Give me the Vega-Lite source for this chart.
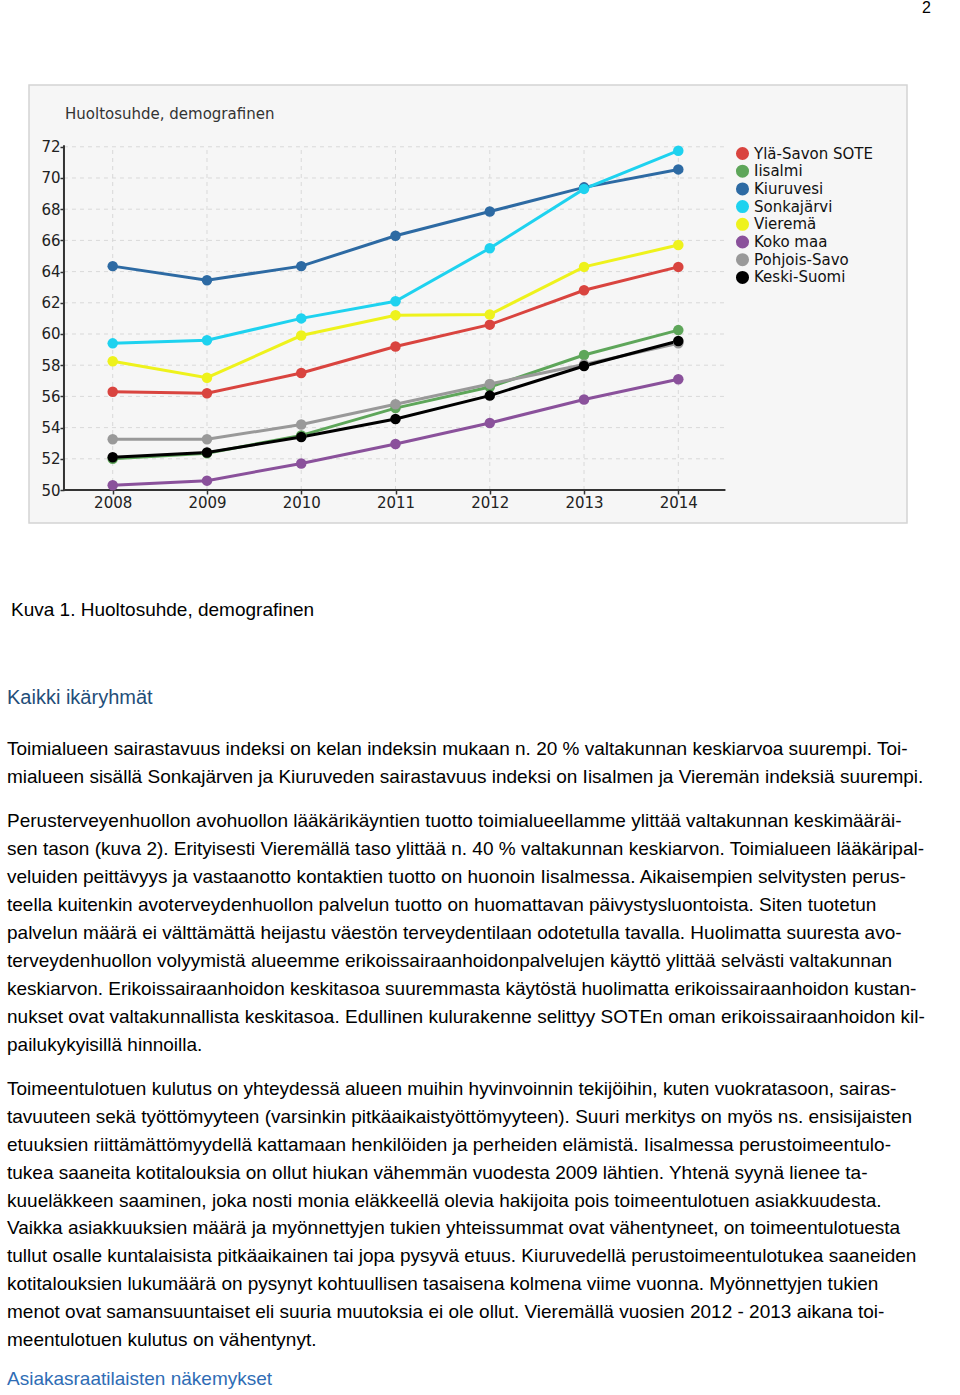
{
  "$schema": "https://vega.github.io/schema/vega-lite/v6.json",
  "padding": 0,
  "background": "white",
  "spacing": 0,
  "title": {"text": "2", "anchor": "end", "frame": "bounds", "font": "Liberation Sans", "fontSize": 16, "fontWeight": "normal", "color": "#000", "dx": 2, "offset": 52, "baseline": "bottom"},
  "config": {"view": {"stroke": null}, "font": "Liberation Sans"},
  "vconcat": [
    {
      "width": 878,
      "height": 438,
      "view": {"fill": "#f6f6f6", "stroke": "#d4d4d4", "strokeWidth": 1.5},
      "title": {"text": "Huoltosuhde, demografinen", "anchor": "start", "font": "DejaVu Sans", "fontSize": 15, "fontWeight": "normal", "color": "#333", "offset": -44, "dx": 64, "baseline": "middle"},
      "data": {"values": [
        {"region": "Ylä-Savon SOTE", "year": 2008, "value": 56.3},
        {"region": "Ylä-Savon SOTE", "year": 2009, "value": 56.2},
        {"region": "Ylä-Savon SOTE", "year": 2010, "value": 57.5},
        {"region": "Ylä-Savon SOTE", "year": 2011, "value": 59.2},
        {"region": "Ylä-Savon SOTE", "year": 2012, "value": 60.6},
        {"region": "Ylä-Savon SOTE", "year": 2013, "value": 62.8},
        {"region": "Ylä-Savon SOTE", "year": 2014, "value": 64.3},
        {"region": "Iisalmi", "year": 2008, "value": 52.0},
        {"region": "Iisalmi", "year": 2009, "value": 52.35},
        {"region": "Iisalmi", "year": 2010, "value": 53.5},
        {"region": "Iisalmi", "year": 2011, "value": 55.25},
        {"region": "Iisalmi", "year": 2012, "value": 56.6},
        {"region": "Iisalmi", "year": 2013, "value": 58.65},
        {"region": "Iisalmi", "year": 2014, "value": 60.25},
        {"region": "Kiuruvesi", "year": 2008, "value": 64.35},
        {"region": "Kiuruvesi", "year": 2009, "value": 63.45},
        {"region": "Kiuruvesi", "year": 2010, "value": 64.35},
        {"region": "Kiuruvesi", "year": 2011, "value": 66.3},
        {"region": "Kiuruvesi", "year": 2012, "value": 67.85},
        {"region": "Kiuruvesi", "year": 2013, "value": 69.4},
        {"region": "Kiuruvesi", "year": 2014, "value": 70.55},
        {"region": "Sonkajärvi", "year": 2008, "value": 59.4},
        {"region": "Sonkajärvi", "year": 2009, "value": 59.6},
        {"region": "Sonkajärvi", "year": 2010, "value": 61.0},
        {"region": "Sonkajärvi", "year": 2011, "value": 62.1},
        {"region": "Sonkajärvi", "year": 2012, "value": 65.5},
        {"region": "Sonkajärvi", "year": 2013, "value": 69.3},
        {"region": "Sonkajärvi", "year": 2014, "value": 71.75},
        {"region": "Vieremä", "year": 2008, "value": 58.25},
        {"region": "Vieremä", "year": 2009, "value": 57.2},
        {"region": "Vieremä", "year": 2010, "value": 59.9},
        {"region": "Vieremä", "year": 2011, "value": 61.2},
        {"region": "Vieremä", "year": 2012, "value": 61.25},
        {"region": "Vieremä", "year": 2013, "value": 64.3},
        {"region": "Vieremä", "year": 2014, "value": 65.7},
        {"region": "Koko maa", "year": 2008, "value": 50.3},
        {"region": "Koko maa", "year": 2009, "value": 50.6},
        {"region": "Koko maa", "year": 2010, "value": 51.7},
        {"region": "Koko maa", "year": 2011, "value": 52.95},
        {"region": "Koko maa", "year": 2012, "value": 54.3},
        {"region": "Koko maa", "year": 2013, "value": 55.8},
        {"region": "Koko maa", "year": 2014, "value": 57.1},
        {"region": "Pohjois-Savo", "year": 2008, "value": 53.25},
        {"region": "Pohjois-Savo", "year": 2009, "value": 53.25},
        {"region": "Pohjois-Savo", "year": 2010, "value": 54.2},
        {"region": "Pohjois-Savo", "year": 2011, "value": 55.5},
        {"region": "Pohjois-Savo", "year": 2012, "value": 56.8},
        {"region": "Pohjois-Savo", "year": 2013, "value": 58.05},
        {"region": "Pohjois-Savo", "year": 2014, "value": 59.4},
        {"region": "Keski-Suomi", "year": 2008, "value": 52.1},
        {"region": "Keski-Suomi", "year": 2009, "value": 52.4},
        {"region": "Keski-Suomi", "year": 2010, "value": 53.4},
        {"region": "Keski-Suomi", "year": 2011, "value": 54.55},
        {"region": "Keski-Suomi", "year": 2012, "value": 56.05},
        {"region": "Keski-Suomi", "year": 2013, "value": 57.95},
        {"region": "Keski-Suomi", "year": 2014, "value": 59.55}
      ]},
      "layer": [
        {
          "data": {"values": [{"year": 2008}, {"year": 2009}, {"year": 2010}, {"year": 2011}, {"year": 2012}, {"year": 2013}, {"year": 2014}]},
          "mark": {"type": "rule", "color": "#d9d9d9", "strokeWidth": 1, "strokeDash": [4, 4]},
          "encoding": {
            "x": {"field": "year", "type": "quantitative", "scale": {"domain": [2007.112, 2016.426], "nice": false, "zero": false},
              "axis": {"orient": "bottom", "offset": -33, "values": [2008, 2009, 2010, 2011, 2012, 2013, 2014], "format": "d", "domain": false, "grid": false, "ticks": true, "tickSize": 4, "tickColor": "#333", "tickWidth": 1.5, "labelFont": "DejaVu Sans", "labelFontSize": 15, "labelColor": "#222", "labelPadding": 1, "title": null, "minExtent": 60, "maxExtent": 60}},
            "y": {"datum": 50, "type": "quantitative", "scale": {"domain": [47.885, 75.96], "nice": false, "zero": false},
              "axis": {"orient": "left", "offset": -35, "values": [50, 52, 54, 56, 58, 60, 62, 64, 66, 68, 70, 72], "domain": false, "grid": false, "ticks": true, "tickSize": 4, "tickColor": "#333", "tickWidth": 1.5, "labelFont": "DejaVu Sans", "labelFontSize": 15, "labelColor": "#222", "labelPadding": 0, "title": null, "minExtent": 63, "maxExtent": 63}},
            "y2": {"datum": 72}
          }
        },
        {
          "data": {"values": [{"v": 52}, {"v": 54}, {"v": 56}, {"v": 58}, {"v": 60}, {"v": 62}, {"v": 64}, {"v": 66}, {"v": 68}, {"v": 70}, {"v": 72}]},
          "mark": {"type": "rule", "color": "#d9d9d9", "strokeWidth": 1, "strokeDash": [4, 4]},
          "encoding": {
            "y": {"field": "v", "type": "quantitative", "scale": {"domain": [47.885, 75.96], "nice": false, "zero": false},
              "axis": {"orient": "left", "offset": -35, "values": [50, 52, 54, 56, 58, 60, 62, 64, 66, 68, 70, 72], "domain": false, "grid": false, "ticks": true, "tickSize": 4, "tickColor": "#333", "tickWidth": 1.5, "labelFont": "DejaVu Sans", "labelFontSize": 15, "labelColor": "#222", "labelPadding": 0, "title": null, "minExtent": 63, "maxExtent": 63}},
            "x": {"datum": 2007.483, "type": "quantitative", "scale": {"domain": [2007.112, 2016.426], "nice": false, "zero": false},
              "axis": {"orient": "bottom", "offset": -33, "values": [2008, 2009, 2010, 2011, 2012, 2013, 2014], "format": "d", "domain": false, "grid": false, "ticks": true, "tickSize": 4, "tickColor": "#333", "tickWidth": 1.5, "labelFont": "DejaVu Sans", "labelFontSize": 15, "labelColor": "#222", "labelPadding": 1, "title": null, "minExtent": 60, "maxExtent": 60}},
            "x2": {"datum": 2014.5}
          }
        },
        {
          "data": {"values": [{"axis": "y"}]},
          "mark": {"type": "rule", "color": "#333", "strokeWidth": 2},
          "encoding": {
            "x": {"datum": 2007.483, "type": "quantitative", "scale": {"domain": [2007.112, 2016.426], "nice": false, "zero": false},
              "axis": {"orient": "bottom", "offset": -33, "values": [2008, 2009, 2010, 2011, 2012, 2013, 2014], "format": "d", "domain": false, "grid": false, "ticks": true, "tickSize": 4, "tickColor": "#333", "tickWidth": 1.5, "labelFont": "DejaVu Sans", "labelFontSize": 15, "labelColor": "#222", "labelPadding": 1, "title": null, "minExtent": 60, "maxExtent": 60}},
            "y": {"datum": 50, "type": "quantitative", "scale": {"domain": [47.885, 75.96], "nice": false, "zero": false},
              "axis": {"orient": "left", "offset": -35, "values": [50, 52, 54, 56, 58, 60, 62, 64, 66, 68, 70, 72], "domain": false, "grid": false, "ticks": true, "tickSize": 4, "tickColor": "#333", "tickWidth": 1.5, "labelFont": "DejaVu Sans", "labelFontSize": 15, "labelColor": "#222", "labelPadding": 0, "title": null, "minExtent": 63, "maxExtent": 63}},
            "y2": {"datum": 72.1}
          }
        },
        {
          "data": {"values": [{"axis": "x"}]},
          "mark": {"type": "rule", "color": "#333", "strokeWidth": 2},
          "encoding": {
            "y": {"datum": 50, "type": "quantitative", "scale": {"domain": [47.885, 75.96], "nice": false, "zero": false},
              "axis": {"orient": "left", "offset": -35, "values": [50, 52, 54, 56, 58, 60, 62, 64, 66, 68, 70, 72], "domain": false, "grid": false, "ticks": true, "tickSize": 4, "tickColor": "#333", "tickWidth": 1.5, "labelFont": "DejaVu Sans", "labelFontSize": 15, "labelColor": "#222", "labelPadding": 0, "title": null, "minExtent": 63, "maxExtent": 63}},
            "x": {"datum": 2007.483, "type": "quantitative", "scale": {"domain": [2007.112, 2016.426], "nice": false, "zero": false},
              "axis": {"orient": "bottom", "offset": -33, "values": [2008, 2009, 2010, 2011, 2012, 2013, 2014], "format": "d", "domain": false, "grid": false, "ticks": true, "tickSize": 4, "tickColor": "#333", "tickWidth": 1.5, "labelFont": "DejaVu Sans", "labelFontSize": 15, "labelColor": "#222", "labelPadding": 1, "title": null, "minExtent": 60, "maxExtent": 60}},
            "x2": {"datum": 2014.5}
          }
        },
        {
          "mark": {"type": "line", "strokeWidth": 3},
          "encoding": {
            "x": {"field": "year", "type": "quantitative", "scale": {"domain": [2007.112, 2016.426], "nice": false, "zero": false},
              "axis": {"orient": "bottom", "offset": -33, "values": [2008, 2009, 2010, 2011, 2012, 2013, 2014], "format": "d", "domain": false, "grid": false, "ticks": true, "tickSize": 4, "tickColor": "#333", "tickWidth": 1.5, "labelFont": "DejaVu Sans", "labelFontSize": 15, "labelColor": "#222", "labelPadding": 1, "title": null, "minExtent": 60, "maxExtent": 60}},
            "y": {"field": "value", "type": "quantitative", "scale": {"domain": [47.885, 75.96], "nice": false, "zero": false},
              "axis": {"orient": "left", "offset": -35, "values": [50, 52, 54, 56, 58, 60, 62, 64, 66, 68, 70, 72], "domain": false, "grid": false, "ticks": true, "tickSize": 4, "tickColor": "#333", "tickWidth": 1.5, "labelFont": "DejaVu Sans", "labelFontSize": 15, "labelColor": "#222", "labelPadding": 0, "title": null, "minExtent": 63, "maxExtent": 63}},
            "color": {"field": "region", "type": "nominal",
              "scale": {"domain": ["Ylä-Savon SOTE", "Iisalmi", "Kiuruvesi", "Sonkajärvi", "Vieremä", "Koko maa", "Pohjois-Savo", "Keski-Suomi"],
                        "range": ["#d9443f", "#5ea65a", "#2d6aa3", "#1ed2ef", "#eef21c", "#8a519b", "#999999", "#000000"]}},
            "order": {"field": "year", "type": "quantitative"}
          }
        },
        {
          "mark": {"type": "point", "filled": true, "size": 110, "opacity": 1},
          "encoding": {
            "x": {"field": "year", "type": "quantitative", "scale": {"domain": [2007.112, 2016.426], "nice": false, "zero": false},
              "axis": {"orient": "bottom", "offset": -33, "values": [2008, 2009, 2010, 2011, 2012, 2013, 2014], "format": "d", "domain": false, "grid": false, "ticks": true, "tickSize": 4, "tickColor": "#333", "tickWidth": 1.5, "labelFont": "DejaVu Sans", "labelFontSize": 15, "labelColor": "#222", "labelPadding": 1, "title": null, "minExtent": 60, "maxExtent": 60}},
            "y": {"field": "value", "type": "quantitative", "scale": {"domain": [47.885, 75.96], "nice": false, "zero": false},
              "axis": {"orient": "left", "offset": -35, "values": [50, 52, 54, 56, 58, 60, 62, 64, 66, 68, 70, 72], "domain": false, "grid": false, "ticks": true, "tickSize": 4, "tickColor": "#333", "tickWidth": 1.5, "labelFont": "DejaVu Sans", "labelFontSize": 15, "labelColor": "#222", "labelPadding": 0, "title": null, "minExtent": 63, "maxExtent": 63}},
            "color": {"field": "region", "type": "nominal",
              "scale": {"domain": ["Ylä-Savon SOTE", "Iisalmi", "Kiuruvesi", "Sonkajärvi", "Vieremä", "Koko maa", "Pohjois-Savo", "Keski-Suomi"],
                        "range": ["#d9443f", "#5ea65a", "#2d6aa3", "#1ed2ef", "#eef21c", "#8a519b", "#999999", "#000000"]},
              "legend": {"orient": "none", "legendX": 706, "legendY": 61, "title": null, "symbolType": "circle", "symbolSize": 170, "symbolStrokeWidth": 0, "symbolOpacity": 1, "labelFont": "DejaVu Sans", "labelFontSize": 15, "labelColor": "#111", "rowPadding": 1.7, "labelOffset": 4, "padding": 0}}
          }
        }
      ]
    },
    {
      "width": 900,
      "height": 118,
      "data": {"values": [{"line": 1, "text": "Kuva 1. Huoltosuhde, demografinen"}]},
      "mark": {"type": "text", "align": "left", "baseline": "middle", "font": "Liberation Sans", "fontSize": 19, "color": "#000", "dx": -18},
      "encoding": {
        "x": {"datum": 0, "type": "quantitative", "scale": {"domain": [0, 1]}, "axis": null},
        "y": {"field": "line", "type": "ordinal", "axis": null},
        "text": {"field": "text"}
      }
    },
    {
      "width": 900,
      "height": 58,
      "data": {"values": [{"line": 1, "text": "Kaikki ikäryhmät"}]},
      "mark": {"type": "text", "align": "left", "baseline": "middle", "font": "Liberation Sans", "fontSize": 20, "color": "#1f4e79", "dx": -22},
      "encoding": {
        "x": {"datum": 0, "type": "quantitative", "scale": {"domain": [0, 1]}, "axis": null},
        "y": {"field": "line", "type": "ordinal", "axis": null},
        "text": {"field": "text"}
      }
    },
    {
      "width": 900,
      "height": 72,
      "data": {"values": [
        {"line": 1, "text": "Toimialueen sairastavuus indeksi on kelan indeksin mukaan n. 20 % valtakunnan keskiarvoa suurempi. Toi-"},
        {"line": 2, "text": "mialueen sisällä Sonkajärven ja Kiuruveden sairastavuus indeksi on Iisalmen ja Vieremän indeksiä suurempi."}
      ]},
      "mark": {"type": "text", "align": "left", "baseline": "middle", "font": "Liberation Sans", "fontSize": 19, "color": "#000", "dx": -22, "limit": 948},
      "encoding": {
        "x": {"datum": 0, "type": "quantitative", "scale": {"domain": [0, 1]}, "axis": null},
        "y": {"field": "line", "type": "ordinal", "axis": null, "scale": {"padding": 0.7857}},
        "text": {"field": "text"}
      }
    },
    {
      "width": 900,
      "height": 268,
      "data": {"values": [
        {"line": 1, "text": "Perusterveyenhuollon avohuollon lääkärikäyntien tuotto toimialueellamme ylittää valtakunnan keskimääräi-"},
        {"line": 2, "text": "sen tason (kuva 2). Erityisesti Vieremällä taso ylittää n. 40 % valtakunnan keskiarvon. Toimialueen lääkäripal-"},
        {"line": 3, "text": "veluiden peittävyys ja vastaanotto kontaktien tuotto on huonoin Iisalmessa. Aikaisempien selvitysten perus-"},
        {"line": 4, "text": "teella kuitenkin avoterveydenhuollon palvelun tuotto on huomattavan päivystysluontoista. Siten tuotetun"},
        {"line": 5, "text": "palvelun määrä ei välttämättä heijastu väestön terveydentilaan odotetulla tavalla. Huolimatta suuresta avo-"},
        {"line": 6, "text": "terveydenhuollon volyymistä alueemme erikoissairaanhoidonpalvelujen käyttö ylittää selvästi valtakunnan"},
        {"line": 7, "text": "keskiarvon. Erikoissairaanhoidon keskitasoa suuremmasta käytöstä huolimatta erikoissairaanhoidon kustan-"},
        {"line": 8, "text": "nukset ovat valtakunnallista keskitasoa. Edullinen kulurakenne selittyy SOTEn oman erikoissairaanhoidon kil-"},
        {"line": 9, "text": "pailukykyisillä hinnoilla."}
      ]},
      "mark": {"type": "text", "align": "left", "baseline": "middle", "font": "Liberation Sans", "fontSize": 19, "color": "#000", "dx": -22, "limit": 948},
      "encoding": {
        "x": {"datum": 0, "type": "quantitative", "scale": {"domain": [0, 1]}, "axis": null},
        "y": {"field": "line", "type": "ordinal", "axis": null, "scale": {"padding": 0.7857}},
        "text": {"field": "text"}
      }
    },
    {
      "width": 900,
      "height": 295,
      "data": {"values": [
        {"line": 1, "text": "Toimeentulotuen kulutus on yhteydessä alueen muihin hyvinvoinnin tekijöihin, kuten vuokratasoon, sairas-"},
        {"line": 2, "text": "tavuuteen sekä työttömyyteen (varsinkin pitkäaikaistyöttömyyteen). Suuri merkitys on myös ns. ensisijaisten"},
        {"line": 3, "text": "etuuksien riittämättömyydellä kattamaan henkilöiden ja perheiden elämistä. Iisalmessa perustoimeentulo-"},
        {"line": 4, "text": "tukea saaneita kotitalouksia on ollut hiukan vähemmän vuodesta 2009 lähtien. Yhtenä syynä lienee ta-"},
        {"line": 5, "text": "kuueläkkeen saaminen, joka nosti monia eläkkeellä olevia hakijoita pois toimeentulotuen asiakkuudesta."},
        {"line": 6, "text": "Vaikka asiakkuuksien määrä ja myönnettyjen tukien yhteissummat ovat vähentyneet, on toimeentulotuesta"},
        {"line": 7, "text": "tullut osalle kuntalaisista pitkäaikainen tai jopa pysyvä etuus. Kiuruvedellä perustoimeentulotukea saaneiden"},
        {"line": 8, "text": "kotitalouksien lukumäärä on pysynyt kohtuullisen tasaisena kolmena viime vuonna. Myönnettyjen tukien"},
        {"line": 9, "text": "menot ovat samansuuntaiset eli suuria muutoksia ei ole ollut. Vieremällä vuosien 2012 - 2013 aikana toi-"},
        {"line": 10, "text": "meentulotuen kulutus on vähentynyt."}
      ]},
      "mark": {"type": "text", "align": "left", "baseline": "middle", "font": "Liberation Sans", "fontSize": 19, "color": "#000", "dx": -22, "limit": 948},
      "encoding": {
        "x": {"datum": 0, "type": "quantitative", "scale": {"domain": [0, 1]}, "axis": null},
        "y": {"field": "line", "type": "ordinal", "axis": null, "scale": {"padding": 0.7867}},
        "text": {"field": "text"}
      }
    },
    {
      "width": 900,
      "height": 34,
      "data": {"values": [{"line": 1, "text": "Asiakasraatilaisten näkemykset"}]},
      "mark": {"type": "text", "align": "left", "baseline": "middle", "font": "Liberation Sans", "fontSize": 19, "color": "#2f6db5", "dx": -22},
      "encoding": {
        "x": {"datum": 0, "type": "quantitative", "scale": {"domain": [0, 1]}, "axis": null},
        "y": {"field": "line", "type": "ordinal", "axis": null},
        "text": {"field": "text"}
      }
    }
  ]
}
